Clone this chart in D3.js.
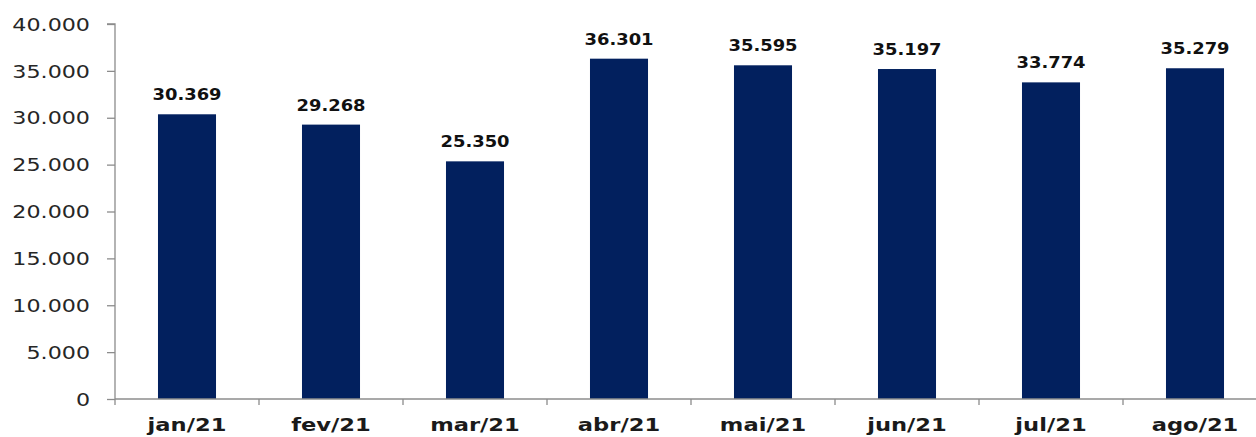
<!DOCTYPE html>
<html><head><meta charset="utf-8">
<script src="https://cdn.jsdelivr.net/npm/d3@7"></script>
<style>html,body{margin:0;padding:0;background:#fff;}svg{display:block;}</style>
</head><body>
<svg id="c" width="1256" height="437"></svg>
<script>
const categories = ["jan/21","fev/21","mar/21","abr/21","mai/21","jun/21","jul/21","ago/21"];
const values = [30369, 29268, 25350, 36301, 35595, 35197, 33774, 35279];
const yTicks = [0,5000,10000,15000,20000,25000,30000,35000,40000];

const fmt = v => d3.format(",")(v).replace(/,/g, ".");
const svg = d3.select("#c");
const x0 = 115, yTop = 24, yBot = 399;
const x = d3.scaleBand().domain(categories).range([x0, x0 + 8*144]).paddingInner(0.597).paddingOuter(0.2985);
const y = d3.scaleLinear().domain([0, 40000]).range([yBot, yTop]);
const axisColor = "#8c8c8c";
const font = "'DejaVu Sans', Verdana, sans-serif";

// bars
svg.append("g").selectAll("rect").data(values).join("rect")
  .attr("x", (d,i) => x(categories[i]))
  .attr("y", d => y(d))
  .attr("width", x.bandwidth())
  .attr("height", d => yBot - y(d))
  .attr("fill", "#02205e");

// y axis
const ya = svg.append("g").attr("transform", `translate(${x0},0)`)
  .call(d3.axisLeft(y).tickValues(yTicks).tickSize(8).tickPadding(0).tickFormat(""));
ya.selectAll("path,line").attr("stroke", axisColor).attr("stroke-width", 1.3);
ya.select("path").attr("d", `M-8,${yTop}H0V${yBot}`);
svg.append("g").selectAll("text").data(yTicks).join("text")
  .attr("transform", d => `translate(90,${y(d)}) scale(1.2,1)`)
  .attr("dy", "0.36em")
  .attr("text-anchor", "end")
  .attr("font-family", font).attr("font-size", 18.5).attr("fill", "#262626")
  .text(d => fmt(d));

// x axis baseline and ticks
const step = x.step();
svg.append("line").attr("x1", x0).attr("x2", 1256).attr("y1", yBot).attr("y2", yBot)
  .attr("stroke", axisColor).attr("stroke-width", 1.3);
svg.append("g").selectAll("line").data(categories).join("line")
  .attr("x1", (d,i) => x0 + i*step).attr("x2", (d,i) => x0 + i*step)
  .attr("y1", yBot).attr("y2", yBot + 6)
  .attr("stroke", axisColor).attr("stroke-width", 1.3);
svg.append("g").selectAll("text").data(categories).join("text")
  .attr("transform", d => `translate(${x(d) + x.bandwidth()/2},431) scale(1.33,1)`)
  .attr("text-anchor", "middle")
  .attr("font-family", font).attr("font-weight", "bold").attr("font-size", 17).attr("fill", "#1a1a1a")
  .text(d => d);

// data labels
svg.append("g").selectAll("text").data(values).join("text")
  .attr("transform", (d,i) => `translate(${x(categories[i]) + x.bandwidth()/2},${y(d) - 14}) scale(1.12,1)`)
  .attr("text-anchor", "middle")
  .attr("font-family", font).attr("font-weight", "bold").attr("font-size", 16).attr("fill", "#111")
  .text(d => fmt(d));
</script>
</body></html>
